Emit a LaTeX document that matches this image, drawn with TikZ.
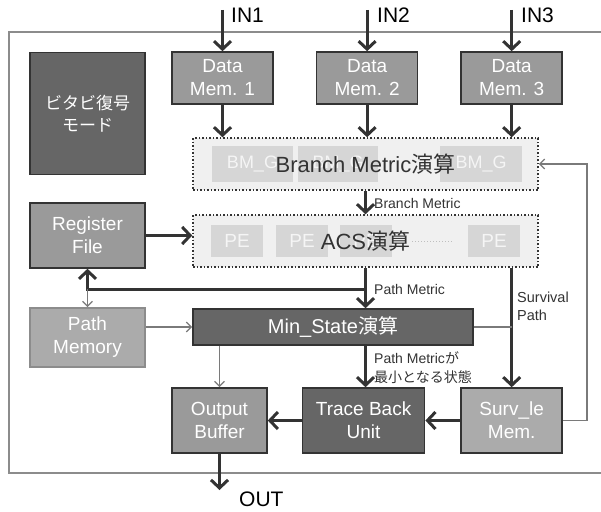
\documentclass[tikz,border=0pt]{standalone}
\usepackage{fontspec}
\setmainfont{Liberation Sans}
\newfontfamily\jp{Noto Sans CJK JP}
\usepackage{tikz}
\usetikzlibrary{arrows.meta,positioning}

\definecolor{ink}{HTML}{333333}
\definecolor{boxdark}{HTML}{666666}
\definecolor{boxmid}{HTML}{9A9A9A}
\definecolor{boxlite}{HTML}{ABABAB}
\definecolor{wire}{HTML}{7A7A7A}
\definecolor{rim}{HTML}{8C8C8C}

\begin{document}
\begin{tikzpicture}[x=1pt,y=-1pt,
    box/.style={draw=ink,line width=1.6pt,text=white,align=center,inner sep=0pt,
      font=\fontsize{19}{23}\selectfont},
    darkbox/.style={box,fill=boxdark},
    midbox/.style={box,fill=boxmid},
    litebox/.style={box,fill=boxlite},
    dotbox/.style={draw=ink,line width=1.5pt,dotted,fill=black!6,
      minimum width=345pt,minimum height=52pt},
    subbox/.style={fill=black!16,text=black!4,inner sep=0pt,font=\fontsize{18}{22}\selectfont},
    thk/.style={draw=ink,line width=3pt,-{Straight Barb[length=8pt,width=17pt]}},
    thn/.style={draw=wire,line width=1.3pt,-{Straight Barb[length=5pt,width=10pt]}},
    lbl/.style={text=ink,font=\fontsize{14}{18}\selectfont,inner sep=0pt,align=left},
    big/.style={text=ink,font=\fontsize{22}{26}\selectfont,inner sep=0pt}]

    \useasboundingbox (0,0) rectangle (601,511);
    \draw[rim,line width=2pt] (601,32) -- (9,32) -- (9,473) -- (601,473);

    % mode and data memories
    \node[darkbox,minimum width=115pt,minimum height=122pt,
      font=\jp\fontsize{17}{22}\selectfont] (mode) at (87.5,113.5) {ビタビ復号\\モード};
    \node[midbox,minimum width=101pt,minimum height=52pt] (dm1) at (222.5,78) {Data\\Mem. 1};
    \node[midbox,minimum width=101pt,minimum height=52pt,right=42pt of dm1] (dm2) {Data\\Mem. 2};
    \node[midbox,minimum width=101pt,minimum height=52pt,right=42pt of dm2] (dm3) {Data\\Mem. 3};

    % branch metric
    \node[dotbox] (bm) at (365.5,164) {};
    \foreach \i/\x/\w in {1/252.5/81,2/338/80,3/481/82}
      \node[subbox,minimum width=\w pt,minimum height=36pt] (bg\i) at (\x,164) {BM\_G};
    \node[big] (bmt) at (bm.center) {Branch Metric{\jp 演算}};

    % ACS
    \node[dotbox] (acs) at (365.5,241) {};
    \foreach \i/\x in {1/237,2/302,3/366,4/494}
      \node[subbox,minimum width=52pt,minimum height=32pt,font=\fontsize{19}{22}\selectfont]
        (pe\i) at (\x,241) {PE};
    \node[big] (acst) at (acs.center) {ACS{\jp 演算}};
    \draw[black!25,line width=1pt,dotted,shorten <=2pt,shorten >=14pt] (acst.east) -- (pe4.west);

    % left column
    \node[midbox,minimum width=115pt,minimum height=65pt] (rf) at (87.5,235.5) {Register\\File};
    \node[litebox,draw=rim,minimum width=115pt,minimum height=59pt] (pm) at (87.5,337.5) {Path\\Memory};
    \node[darkbox,minimum width=280pt,minimum height=36pt,
      font=\fontsize{20}{24}\selectfont] (ms) at (333,327) {Min\_State{\jp 演算}};

    % bottom row
    \node[midbox,minimum width=95pt,minimum height=65pt] (ob) at (219.5,420.5) {Output\\Buffer};
    \node[darkbox,minimum width=122pt,minimum height=65pt,right=34pt of ob] (tb) {Trace Back\\Unit};
    \node[litebox,minimum width=101pt,minimum height=65pt,right=35pt of tb] (sm) {Surv\_le\\Mem.};

    \coordinate (in1) at (dm1.north |- 0,10);
    \coordinate (in2) at (dm2.north |- 0,10);
    \coordinate (in3) at (dm3.north |- 0,10);
    \coordinate (j) at (acs.south |- 0,289);
    \coordinate (out) at (ob.south |- 0,490);

    \foreach \d in {1,2,3} {
      \draw[thk] (in\d) -- (dm\d);
      \draw[thk] (dm\d) -- (dm\d |- bm.north);
    }
    \draw[thk] (bm) -- (acs);
    \draw[thk] (rf) -- (rf -| acs.west);
    \draw[thk] (acs) -- (acs |- ms.north);
    \draw[thk] (j) -| (rf);
    \draw[thn] (j -| rf.south) -- (pm);
    \draw[thn] (pm.east |- ms.west) -- (ms.west);
    \draw[thk] (acs.south -| sm.north) -- (sm.north);
    \draw[wire,line width=1.3pt] (ms.east) -- (ms.east -| sm.north);
    \draw[thn] (ms.south -| ob.north) -- (ob.north);
    \draw[thk] (ms.south -| acs.south) -- (acs.south |- tb.north);
    \draw[thk] (sm) -- (tb);
    \draw[thk] (tb) -- (ob);
    \draw[thn] (sm.east) -- ++(24,0) |- (bm.east);
    \draw[thk] (ob) -- (out);

    % labels
    \node[big,anchor=west,text=black,font=\fontsize{21}{25}\selectfont] (lin1) at (231,15) {IN1};
    \node[big,anchor=west,text=black,font=\fontsize{21}{25}\selectfont] (lin2) at (377,15) {IN2};
    \node[big,anchor=west,text=black,font=\fontsize{21}{25}\selectfont] (lin3) at (521,15) {IN3};
    \node[big,anchor=west,text=black,font=\fontsize{21}{25}\selectfont] (lout) at (239,499) {OUT};
    \node[lbl,anchor=west] (lbm) at (374,203) {Branch Metric};
    \node[lbl,anchor=west] (lpm) at (374,289) {Path Metric};
    \node[lbl,anchor=north west,font=\fontsize{14.5}{18}\selectfont] (lsp) at (517,292) {Survival\\Path};
    \node[lbl,anchor=north west,font=\fontsize{14}{19}\selectfont] (lmin) at (374,351)
      {Path Metric{\jp が}\\{\jp 最小となる状態}};
\end{tikzpicture}
\end{document}
